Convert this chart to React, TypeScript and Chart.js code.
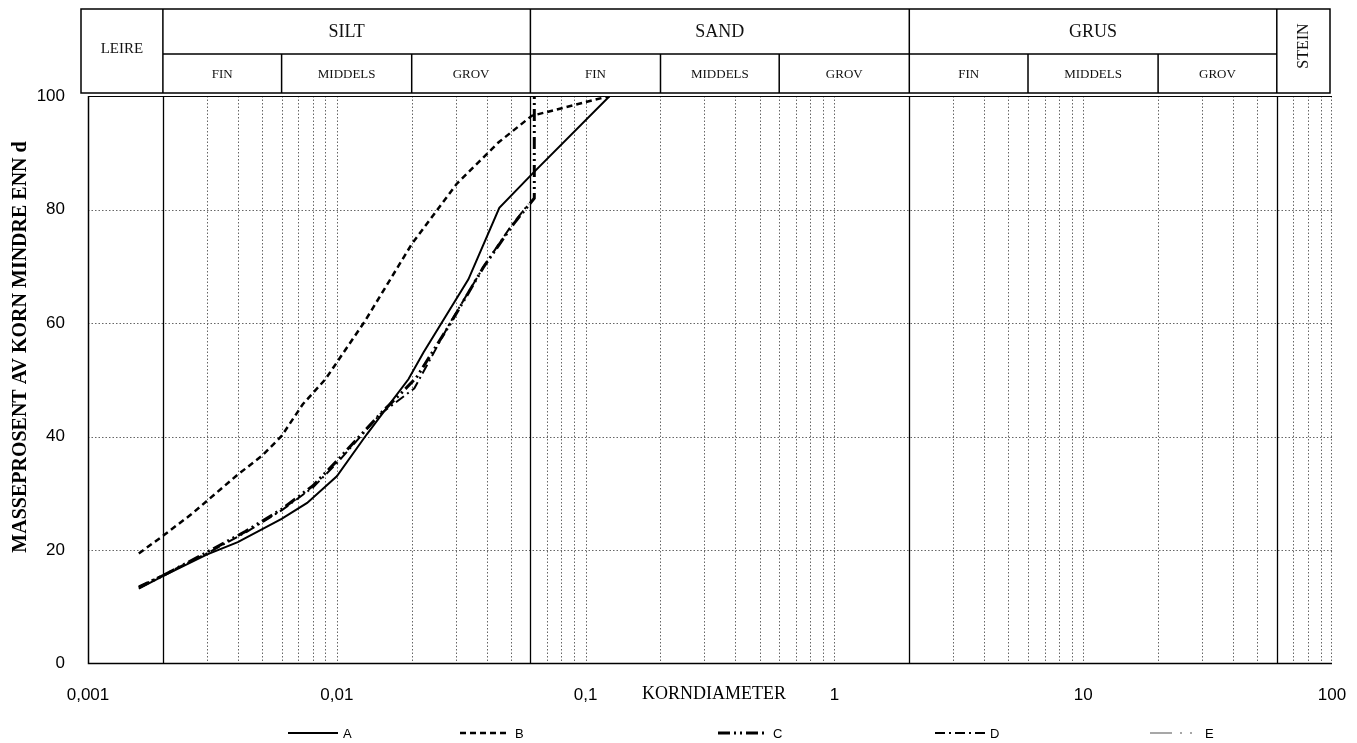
import React, { useEffect, useRef } from 'react';
import { Chart, registerables } from 'chart.js';

Chart.register(...registerables);

// ---- data (grain size in mm, percent passing) ----
const sizesA = [0.0016, 0.002, 0.003, 0.004, 0.006, 0.0076, 0.01, 0.0132, 0.0159, 0.0194, 0.0223, 0.0338, 0.045, 0.0617, 0.125, 0.25];
const passA = [13.2, 15.4, 19.2, 21.4, 25.5, 28.3, 33.0, 40.4, 45.1, 50.1, 54.8, 67.7, 80.3, 86.5, 100, 100];

const sizesB = [0.0016, 0.002, 0.0026, 0.004, 0.005, 0.006, 0.0073, 0.009, 0.013, 0.02, 0.0303, 0.0446, 0.0607, 0.125];
const passB = [19.4, 22.5, 26.3, 33.3, 36.6, 40.1, 45.7, 50.1, 60.4, 73.9, 84.5, 91.8, 96.5, 100];

const sizesC = [0.0016, 0.002, 0.003, 0.0043, 0.006, 0.008, 0.01, 0.0151, 0.0182, 0.0209, 0.0285, 0.0388, 0.0512, 0.0622, 0.0622];
const passC = [13.4, 15.5, 19.6, 23.3, 27.2, 31.3, 35.7, 44.2, 47.7, 50.4, 59.8, 69.8, 77.4, 82, 100];

const sizesD = [0.0016, 0.002, 0.003, 0.0043, 0.006, 0.008, 0.01, 0.015, 0.0205, 0.0285, 0.039, 0.05, 0.059];
const passD = [13.6, 15.6, 19.4, 23.1, 27.0, 31.0, 35.3, 44.0, 48.5, 60.0, 70.0, 77.0, 81.0];

const sizesE: number[] = [];
const passE: number[] = [];

const seriesLabels = ['A', 'B', 'C', 'D', 'E'];

const xTickValues = [0.001, 0.01, 0.1, 1, 10, 100];
const xTickLabels = ['0,001', '0,01', '0,1', '1', '10', '100'];
const yTickValues = [0, 20, 40, 60, 80, 100];

const decades = [0.001, 0.01, 0.1, 1, 10];
const multipliers = [1, 2, 3, 4, 5, 6, 7, 8, 9];

// fraction boundaries (mm)
const mainBounds = [0.002, 0.06, 2, 60];
const mainNames = ['SILT', 'SAND', 'GRUS'];
const subBounds = [
  [0.002, 0.006, 0.02, 0.06],
  [0.06, 0.2, 0.6, 2],
  [2, 6, 20, 60],
];
const subNames = ['FIN', 'MIDDELS', 'GROV'];

const SERIF = '"Liberation Serif", "Times New Roman", serif';
const SANS = '"Liberation Sans", Arial, sans-serif';

const toPoints = (xs: number[], ys: number[]) => xs.map((x, i) => ({ x, y: ys[i] }));

const soilPlugin = {
  id: 'soilPlugin',
  beforeDatasetsDraw(chart: any) {
    const { ctx, chartArea: a, scales } = chart;
    const x = scales.x;
    const y = scales.y;
    ctx.save();
    // minor dotted verticals
    ctx.strokeStyle = '#666';
    ctx.lineWidth = 1;
    ctx.setLineDash([1.5, 2]);
    decades.forEach((d) => {
      multipliers.forEach((m) => {
        const v = d * m;
        if (v <= 0.001 * 1.0001) return;
        if (mainBounds.some((b) => Math.abs(b - v) / b < 1e-6)) return;
        const px = Math.round(x.getPixelForValue(v)) + 0.5;
        ctx.beginPath();
        ctx.moveTo(px, a.top);
        ctx.lineTo(px, a.bottom);
        ctx.stroke();
      });
    });
    // dotted horizontals
    yTickValues.forEach((v) => {
      if (v === 0 || v === 100) return;
      const py = Math.round(y.getPixelForValue(v)) + 0.5;
      ctx.beginPath();
      ctx.moveTo(a.left, py);
      ctx.lineTo(a.right, py);
      ctx.stroke();
    });
    // right edge dotted
    ctx.beginPath();
    ctx.moveTo(a.right - 0.5, a.top);
    ctx.lineTo(a.right - 0.5, a.bottom);
    ctx.stroke();
    // solid boundaries
    ctx.setLineDash([]);
    ctx.strokeStyle = '#000';
    ctx.lineWidth = 1.3;
    mainBounds.forEach((b) => {
      const px = Math.round(x.getPixelForValue(b)) + 0.5;
      ctx.beginPath();
      ctx.moveTo(px, a.top);
      ctx.lineTo(px, a.bottom);
      ctx.stroke();
    });
    // left & bottom axis
    ctx.lineWidth = 1.5;
    ctx.beginPath();
    ctx.moveTo(a.left + 0.5, a.top);
    ctx.lineTo(a.left + 0.5, a.bottom);
    ctx.lineTo(a.right, a.bottom);
    ctx.stroke();
    // top line
    ctx.lineWidth = 1.2;
    ctx.beginPath();
    ctx.moveTo(a.left, a.top + 0.5);
    ctx.lineTo(a.right, a.top + 0.5);
    ctx.stroke();
    ctx.restore();
  },
  afterDraw(chart: any) {
    const { ctx, chartArea: a, scales } = chart;
    const x = scales.x;
    ctx.save();
    // ---- header table ----
    const hTop = a.top - 87;
    const hMid = a.top - 42;
    const hBot = a.top - 3;
    const hLeft = a.left - 7;
    const hRight = a.right - 2;
    const px = (v: number) => x.getPixelForValue(v);
    ctx.strokeStyle = '#000';
    ctx.lineWidth = 1.5;
    ctx.strokeRect(hLeft, hTop, hRight - hLeft, hBot - hTop);
    ctx.beginPath();
    ctx.moveTo(px(mainBounds[0]), hMid);
    ctx.lineTo(px(mainBounds[mainBounds.length - 1]), hMid);
    mainBounds.forEach((b) => {
      ctx.moveTo(px(b), hTop);
      ctx.lineTo(px(b), hBot);
    });
    subBounds.forEach((sb) => {
      sb.slice(1, -1).forEach((b) => {
        ctx.moveTo(px(b), hMid);
        ctx.lineTo(px(b), hBot);
      });
    });
    ctx.stroke();

    ctx.fillStyle = '#111';
    ctx.textAlign = 'center';
    ctx.textBaseline = 'middle';
    // LEIRE
    ctx.font = `15px ${SERIF}`;
    ctx.fillText('LEIRE', (hLeft + px(mainBounds[0])) / 2, (hTop + hBot) / 2 - 2);
    // main names
    ctx.font = `18px ${SERIF}`;
    mainNames.forEach((n, i) => {
      ctx.fillText(n, (px(mainBounds[i]) + px(mainBounds[i + 1])) / 2, (hTop + hMid) / 2 + 1);
    });
    // sub names
    ctx.font = `13px ${SERIF}`;
    subBounds.forEach((sb) => {
      for (let i = 0; i < 3; i++) {
        ctx.fillText(subNames[i], (px(sb[i]) + px(sb[i + 1])) / 2, (hMid + hBot) / 2 + 1);
      }
    });
    // STEIN rotated
    ctx.save();
    ctx.font = `16px ${SERIF}`;
    ctx.translate((px(mainBounds[3]) + hRight) / 2, hTop + 37);
    ctx.rotate(-Math.PI / 2);
    ctx.fillText('STEIN', 0, 0);
    ctx.restore();

    // ---- y axis title ----
    ctx.save();
    ctx.font = `bold 20px ${SERIF}`;
    ctx.fillStyle = '#000';
    ctx.translate(21, 347);
    ctx.rotate(-Math.PI / 2);
    ctx.fillText('MASSEPROSENT AV KORN MINDRE ENN d', 0, 0);
    ctx.restore();

    // ---- x axis title ----
    ctx.font = `18px ${SERIF}`;
    ctx.fillStyle = '#000';
    ctx.fillText('KORNDIAMETER', (px(0.1) + px(1)) / 2 + 4, a.bottom + 31);

    // ---- legend ----
    const legendStarts = [288, 460, 718, 935, 1150];
    const legendY = 733;
    chart.data.datasets.forEach((ds: any, i: number) => {
      const sx = legendStarts[i];
      ctx.save();
      ctx.strokeStyle = ds.borderColor;
      ctx.lineWidth = ds.borderWidth;
      ctx.setLineDash(ds.borderDash || []);
      ctx.beginPath();
      ctx.moveTo(sx, legendY);
      ctx.lineTo(sx + 50, legendY);
      ctx.stroke();
      ctx.restore();
      ctx.font = `13px ${SANS}`;
      ctx.fillStyle = '#000';
      ctx.textAlign = 'left';
      ctx.fillText(seriesLabels[i], sx + 55, legendY + 1);
    });
    ctx.restore();
  },
};

export default function App() {
  const canvasRef = useRef<HTMLCanvasElement | null>(null);

  useEffect(() => {
    document.body.style.margin = '0';
    const canvas = canvasRef.current;
    if (!canvas) return;
    const chart = new Chart(canvas, {
      type: 'line',
      data: {
        datasets: [
          { label: seriesLabels[0], data: toPoints(sizesA, passA), borderColor: '#000', borderWidth: 2, borderDash: [], pointRadius: 0, tension: 0, fill: false },
          { label: seriesLabels[1], data: toPoints(sizesB, passB), borderColor: '#000', borderWidth: 2.5, borderDash: [6, 4], pointRadius: 0, tension: 0, fill: false },
          { label: seriesLabels[2], data: toPoints(sizesC, passC), borderColor: '#000', borderWidth: 3, borderDash: [12, 4, 2, 4, 2, 4], pointRadius: 0, tension: 0, fill: false },
          { label: seriesLabels[3], data: toPoints(sizesD, passD), borderColor: '#000', borderWidth: 2, borderDash: [10, 4, 2, 4], pointRadius: 0, tension: 0, fill: false },
          { label: seriesLabels[4], data: toPoints(sizesE, passE), borderColor: '#8a8a8a', borderWidth: 1.5, borderDash: [22, 8, 2, 8, 2, 8], pointRadius: 0, tension: 0, fill: false },
        ],
      },
      options: {
        animation: false,
        responsive: true,
        maintainAspectRatio: false,
        parsing: { xAxisKey: 'x', yAxisKey: 'y' } as any,
        layout: { padding: { top: 96, right: 25, bottom: 15, left: 0 } },
        plugins: {
          legend: { display: false },
          tooltip: { enabled: false },
        },
        scales: {
          x: {
            type: 'logarithmic',
            min: 0.001,
            max: 100,
            grid: { display: false, drawTicks: false },
            border: { display: false },
            afterBuildTicks: (scale: any) => {
              scale.ticks = xTickValues.map((v) => ({ value: v }));
            },
            afterFit: (scale: any) => {
              scale.paddingLeft = 0;
              scale.paddingRight = 0;
            },
            ticks: {
              autoSkip: false,
              maxRotation: 0,
              padding: 22,
              color: '#000',
              font: { family: SANS, size: 17 },
              callback: (value: any) => {
                const idx = xTickValues.findIndex((v) => Math.abs(v - Number(value)) / v < 1e-6);
                return idx >= 0 ? xTickLabels[idx] : '';
              },
            },
          },
          y: {
            type: 'linear',
            min: 0,
            max: 100,
            grid: { display: false, drawTicks: false },
            border: { display: false },
            afterBuildTicks: (scale: any) => {
              scale.ticks = yTickValues.map((v) => ({ value: v }));
            },
            afterFit: (scale: any) => {
              scale.width = 88;
            },
            ticks: {
              padding: 23,
              color: '#000',
              font: { family: SANS, size: 17 },
            },
          },
        },
      },
      plugins: [soilPlugin],
    });
    return () => chart.destroy();
  }, []);

  return (
    <div style={{ width: 1357, height: 743, position: 'relative', background: '#fff' }}>
      <canvas ref={canvasRef} />
    </div>
  );
}
